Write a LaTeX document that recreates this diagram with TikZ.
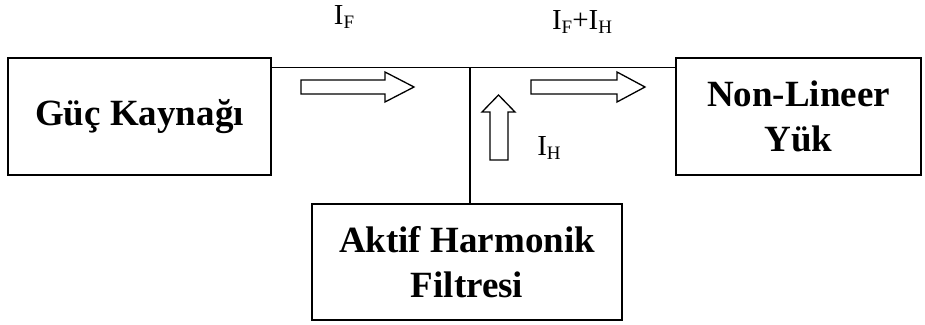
\documentclass[tikz,border=0pt]{standalone}
\usepackage{fontspec}
\setmainfont{Liberation Serif}
\newcommand{\altind}[1]{\raisebox{-3.5pt}{\fontsize{19}{19}\selectfont #1}}
\tikzset{
  box/.style={draw,line width=1.6pt,align=center,font=\bfseries\fontsize{37}{45}\selectfont},
  fatarrow/.style={draw,line width=1.3pt,line join=miter},
  akim/.style={font=\fontsize{29}{32}\selectfont,inner sep=0pt}
}
\begin{document}
\begin{tikzpicture}[x=1pt,y=-1pt,line cap=round]
\useasboundingbox (0,0) rectangle (925,324);
\node[box,minimum width=263pt,minimum height=117pt] (guc) at (139.5,116.5) {Güç Kaynağı};
\node[box,minimum width=245pt,minimum height=117pt] (yuk) at (798.5,116.5) {Non-Lineer\\Yük};
\node[box,minimum width=310pt,minimum height=116pt] (filtre) at (467,262) {Aktif Harmonik\\Filtresi};
\coordinate (j) at (470,68);
\draw[line width=1.2pt] ([yshift=-10pt]guc.north east) -- ([yshift=-10pt]yuk.north west);
\draw[line width=1.2pt] (j) -- (j |- filtre.north);
\draw[fatarrow] (301,80) -- (385,80) -- (385,72) -- (414,87) -- (385,102) -- (385,94) -- (301,94) -- cycle;
\draw[fatarrow] (531,80) -- (617,80) -- (617,72) -- (645,87) -- (617,102) -- (617,94) -- (531,94) -- cycle;
\draw[fatarrow] (490,160) -- (490,112) -- (482,112) -- (498.5,95) -- (515,112) -- (508,112) -- (508,160) -- cycle;
\node[akim] (lf) at (344,17) {I\altind{F}};
\node[akim] (lfh) at (582,22) {I\altind{F}+I\altind{H}};
\node[akim] (lh) at (549,148) {I\altind{H}};
\end{tikzpicture}
\end{document}
